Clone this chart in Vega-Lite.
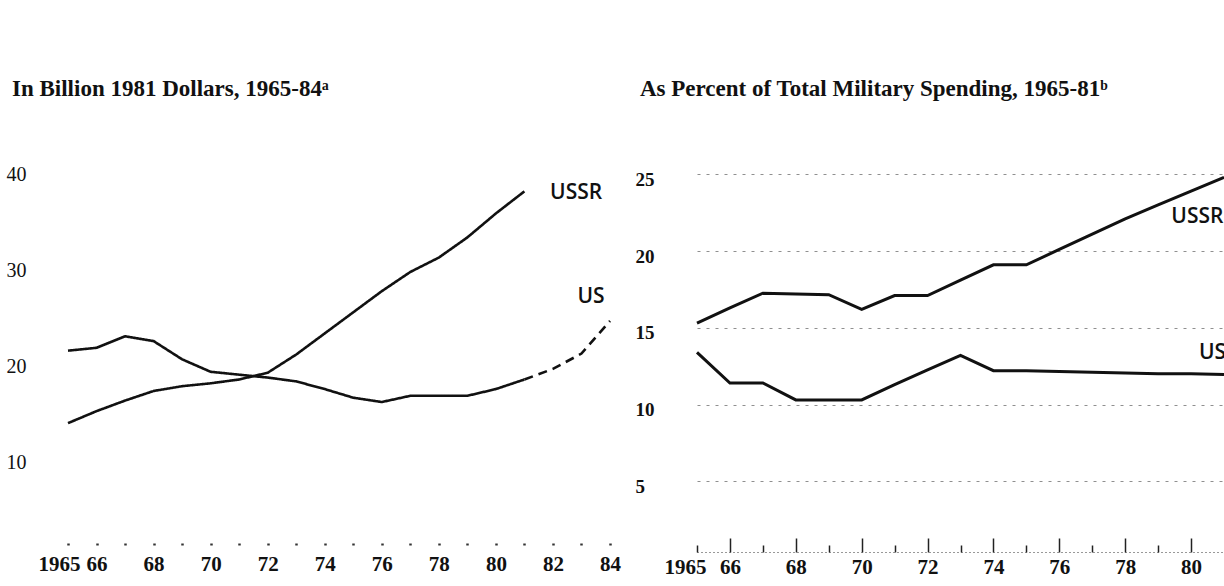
{
  "$schema": "https://vega.github.io/schema/vega-lite/v6.json",
  "background": "white",
  "padding": {"left": 6, "top": 78, "right": 0, "bottom": 0},
  "autosize": {"type": "pad"},
  "bounds": "flush",
  "spacing": 87,
  "config": {
    "view": {"stroke": null},
    "axis": {"labelFont": "Liberation Serif", "labelColor": "#111", "grid": false, "domain": false, "ticks": false, "title": null, "labelOverlap": false, "labelBound": false, "labelFlush": false},
    "title": {"font": "Liberation Serif", "fontSize": 23, "fontWeight": "bold", "color": "#111", "anchor": "start", "frame": "bounds"}
  },
  "datasets": {
    "dollars": [
      {"year": 1965, "series": "USSR", "style": "solid", "value": 14.05},
      {"year": 1966, "series": "USSR", "style": "solid", "value": 15.3},
      {"year": 1967, "series": "USSR", "style": "solid", "value": 16.4},
      {"year": 1968, "series": "USSR", "style": "solid", "value": 17.4},
      {"year": 1969, "series": "USSR", "style": "solid", "value": 17.9},
      {"year": 1970, "series": "USSR", "style": "solid", "value": 18.2},
      {"year": 1971, "series": "USSR", "style": "solid", "value": 18.6},
      {"year": 1972, "series": "USSR", "style": "solid", "value": 19.3},
      {"year": 1973, "series": "USSR", "style": "solid", "value": 21.2},
      {"year": 1974, "series": "USSR", "style": "solid", "value": 23.4},
      {"year": 1975, "series": "USSR", "style": "solid", "value": 25.6},
      {"year": 1976, "series": "USSR", "style": "solid", "value": 27.8},
      {"year": 1977, "series": "USSR", "style": "solid", "value": 29.8},
      {"year": 1978, "series": "USSR", "style": "solid", "value": 31.3},
      {"year": 1979, "series": "USSR", "style": "solid", "value": 33.4},
      {"year": 1980, "series": "USSR", "style": "solid", "value": 35.9},
      {"year": 1981, "series": "USSR", "style": "solid", "value": 38.2},
      {"year": 1965, "series": "US", "style": "solid", "value": 21.6},
      {"year": 1966, "series": "US", "style": "solid", "value": 21.9},
      {"year": 1967, "series": "US", "style": "solid", "value": 23.1},
      {"year": 1968, "series": "US", "style": "solid", "value": 22.6},
      {"year": 1969, "series": "US", "style": "solid", "value": 20.7},
      {"year": 1970, "series": "US", "style": "solid", "value": 19.4},
      {"year": 1971, "series": "US", "style": "solid", "value": 19.1},
      {"year": 1972, "series": "US", "style": "solid", "value": 18.8},
      {"year": 1973, "series": "US", "style": "solid", "value": 18.4},
      {"year": 1974, "series": "US", "style": "solid", "value": 17.6},
      {"year": 1975, "series": "US", "style": "solid", "value": 16.7},
      {"year": 1976, "series": "US", "style": "solid", "value": 16.25},
      {"year": 1977, "series": "US", "style": "solid", "value": 16.9},
      {"year": 1978, "series": "US", "style": "solid", "value": 16.9},
      {"year": 1979, "series": "US", "style": "solid", "value": 16.9},
      {"year": 1980, "series": "US", "style": "solid", "value": 17.6},
      {"year": 1981, "series": "US", "style": "solid", "value": 18.6},
      {"year": 1981, "series": "US", "style": "dashed", "value": 18.6},
      {"year": 1982, "series": "US", "style": "dashed", "value": 19.7},
      {"year": 1983, "series": "US", "style": "dashed", "value": 21.3},
      {"year": 1984, "series": "US", "style": "dashed", "value": 24.7}
    ],
    "dollarLabels": [
      {"year": 1981.9, "value": 38.0, "label": "USSR"},
      {"year": 1982.86, "value": 27.2, "label": "US"}
    ],
    "percent": [
      {"year": 1965, "series": "USSR", "value": 15.3},
      {"year": 1966, "series": "USSR", "value": 16.3},
      {"year": 1967, "series": "USSR", "value": 17.25},
      {"year": 1968, "series": "USSR", "value": 17.2},
      {"year": 1969, "series": "USSR", "value": 17.15},
      {"year": 1970, "series": "USSR", "value": 16.2},
      {"year": 1971, "series": "USSR", "value": 17.1},
      {"year": 1972, "series": "USSR", "value": 17.1},
      {"year": 1973, "series": "USSR", "value": 18.1},
      {"year": 1974, "series": "USSR", "value": 19.1},
      {"year": 1975, "series": "USSR", "value": 19.1},
      {"year": 1976, "series": "USSR", "value": 20.1},
      {"year": 1977, "series": "USSR", "value": 21.1},
      {"year": 1978, "series": "USSR", "value": 22.1},
      {"year": 1979, "series": "USSR", "value": 23.0},
      {"year": 1980, "series": "USSR", "value": 23.9},
      {"year": 1981, "series": "USSR", "value": 24.8},
      {"year": 1965, "series": "US", "value": 13.4},
      {"year": 1966, "series": "US", "value": 11.4},
      {"year": 1967, "series": "US", "value": 11.4},
      {"year": 1968, "series": "US", "value": 10.3},
      {"year": 1969, "series": "US", "value": 10.3},
      {"year": 1970, "series": "US", "value": 10.3},
      {"year": 1971, "series": "US", "value": 11.3},
      {"year": 1972, "series": "US", "value": 12.25},
      {"year": 1973, "series": "US", "value": 13.2},
      {"year": 1974, "series": "US", "value": 12.2},
      {"year": 1975, "series": "US", "value": 12.2},
      {"year": 1976, "series": "US", "value": 12.15},
      {"year": 1977, "series": "US", "value": 12.1},
      {"year": 1978, "series": "US", "value": 12.05},
      {"year": 1979, "series": "US", "value": 12.0},
      {"year": 1980, "series": "US", "value": 12.0},
      {"year": 1981, "series": "US", "value": 11.95}
    ],
    "percentLabels": [
      {"year": 1979.4, "value": 22.2, "label": "USSR"},
      {"year": 1980.24, "value": 13.36, "label": "US"}
    ]
  },
  "hconcat": [
    {
      "width": 542,
      "height": 406,
      "title": {"text": "In Billion 1981 Dollars, 1965-84ᵃ", "offset": 51, "dx": 6},
      "encoding": {
        "x": {
          "field": "year", "type": "quantitative",
          "scale": {"domain": [1965, 1984], "nice": false, "zero": false},
          "axis": {
            "values": [1965,1966,1967,1968,1969,1970,1971,1972,1973,1974,1975,1976,1977,1978,1979,1980,1981,1982,1983,1984],
            "labelExpr": "datum.value == 1965 ? '1965' : (datum.value % 2 == 0 ? format(datum.value % 100, '02d') : '')",
            "labelFontSize": 21, "labelFontWeight": "bold", "labelPadding": 10, "offset": -13,
            "ticks": true, "tickSize": -2, "tickWidth": 2.5, "tickColor": "#333",
            "labelOffset": {"condition": {"test": "datum.value == 1965", "value": -9}, "value": 0}
          }
        },
        "y": {
          "field": "value", "type": "quantitative",
          "scale": {"domain": [0, 42.3], "nice": false, "zero": false},
          "axis": {"values": [10, 20, 30, 40], "labelAlign": "left", "labelPadding": 62, "tickSize": 0, "labelFontSize": 20}
        }
      },
      "layer": [
        {
          "data": {"name": "dollars"},
          "mark": {"type": "line", "color": "#111", "strokeWidth": 2.6},
          "encoding": {
            "detail": {"field": "series"},
            "strokeDash": {"field": "style", "type": "nominal", "scale": {"domain": ["solid", "dashed"], "range": [[1, 0], [9, 6]]}, "legend": null}
          }
        },
        {
          "data": {"name": "dollarLabels"},
          "mark": {"type": "text", "align": "left", "baseline": "middle", "font": "Open Sans", "fontSize": 21, "fontWeight": 600, "color": "#111"},
          "encoding": {"text": {"field": "label"}}
        }
      ]
    },
    {
      "width": 527,
      "height": 406,
      "title": {"text": "As Percent of Total Military Spending, 1965-81ᵇ", "offset": 51, "dx": 5},
      "encoding": {
        "x": {
          "field": "year", "type": "quantitative",
          "scale": {"domain": [1965, 1981], "nice": false, "zero": false},
          "axis": {
            "values": [1965,1966,1967,1968,1969,1970,1971,1972,1973,1974,1975,1976,1977,1978,1979,1980],
            "labelExpr": "datum.value == 1965 ? '1965' : (datum.value % 2 == 0 ? format(datum.value % 100, '02d') : '')",
            "labelFontSize": 21, "labelFontWeight": "bold",
            "labelPadding": {"condition": {"test": "datum.value % 2 == 0", "value": 18}, "value": 11},
            "offset": -6,
            "ticks": true,
            "tickSize": {"condition": {"test": "datum.value % 2 == 0", "value": -14}, "value": -7},
            "tickWidth": 1.5, "tickColor": "#222",
            "domain": true, "domainDash": [1, 3], "domainColor": "#333", "domainWidth": 1,
            "labelOffset": {"condition": {"test": "datum.value == 1965", "value": -12}, "value": 0}
          }
        },
        "y": {
          "field": "value", "type": "quantitative",
          "scale": {"domain": [0, 26.45], "nice": false, "zero": false},
          "axis": {
            "values": [5, 10, 15, 20, 25], "labelAlign": "left", "labelPadding": 62, "tickSize": 0,
            "labelFontSize": 19, "labelFontWeight": "bold", "labelOffset": 5,
            "grid": true, "gridDash": [3, 6], "gridColor": "#444", "gridOpacity": 0.6, "gridWidth": 1
          }
        }
      },
      "layer": [
        {
          "data": {"name": "percent"},
          "mark": {"type": "line", "color": "#111", "strokeWidth": 3},
          "encoding": {"detail": {"field": "series"}}
        },
        {
          "data": {"name": "percentLabels"},
          "mark": {"type": "text", "align": "left", "baseline": "middle", "font": "Open Sans", "fontSize": 21, "fontWeight": 600, "color": "#111", "clip": true},
          "encoding": {"text": {"field": "label"}}
        }
      ]
    }
  ]
}
